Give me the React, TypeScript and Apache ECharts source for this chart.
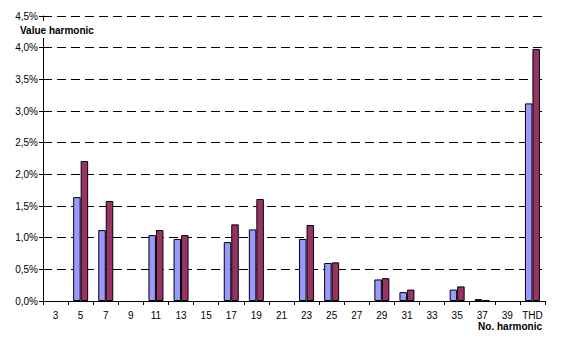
import React, { useEffect, useRef } from "react";
import * as echarts from "echarts";

const categories = ["3","5","7","9","11","13","15","17","19","21","23","25","27","29","31","33","35","37","39","THD"];
const seriesA = [null, 1.64, 1.12, null, 1.04, 0.98, null, 0.93, 1.13, null, 0.98, 0.60, null, 0.34, 0.14, null, 0.18, 0.03, null, 3.12];
const seriesB = [null, 2.21, 1.58, null, 1.12, 1.04, null, 1.21, 1.61, null, 1.20, 0.61, null, 0.36, 0.18, null, 0.23, 0.01, null, 3.98];
const yTitle = "Value harmonic";
const xTitle = "No. harmonic";

const FONT = "'Liberation Sans', Arial, sans-serif";

export default function App() {
  const ref = useRef<HTMLDivElement>(null);
  useEffect(() => {
    document.body.style.margin = "0";
    const chart = echarts.init(ref.current!, null, { renderer: "svg" });
    chart.setOption({
      animation: false,
      backgroundColor: "#fff",
      textStyle: { fontFamily: FONT },
      grid: { left: 43, right: 18, top: 16, bottom: 40, containLabel: false },
      xAxis: {
        type: "category",
        data: categories,
        boundaryGap: true,
        axisLine: { show: true, lineStyle: { color: "#000", width: 1 } },
        axisTick: { show: true, length: 4, lineStyle: { color: "#000" }, alignWithLabel: false },
        axisLabel: { color: "#000", fontSize: 10, fontFamily: FONT, margin: 9, interval: 0 },
        splitLine: { show: false },
      },
      yAxis: {
        type: "value",
        min: 0,
        max: 4.5,
        interval: 0.5,
        axisLine: { show: true, lineStyle: { color: "#000", width: 1 } },
        axisTick: { show: true, length: 4, lineStyle: { color: "#000" } },
        axisLabel: {
          color: "#000",
          fontSize: 10,
          fontFamily: FONT,
          margin: 5,
          formatter: (v: number) => v.toFixed(1).replace(".", ",") + "%",
        },
        splitLine: { show: true, lineStyle: { color: "#000", type: [9, 5], width: 1 } },
      },
      series: [
        {
          type: "bar",
          data: seriesA,
          barWidth: 7.5,
          barGap: "0%",
          itemStyle: { color: "#9999FF", borderColor: "#000", borderWidth: 1 },
        },
        {
          type: "bar",
          data: seriesB,
          barWidth: 7.5,
          barGap: "0%",
          itemStyle: { color: "#993366", borderColor: "#000", borderWidth: 1 },
        },
      ],
      graphic: [
        {
          type: "rect",
          shape: { x: 18, y: 21, width: 78, height: 17 },
          style: { fill: "#fff" },
          z: 100,
        },
        {
          type: "text",
          x: 20,
          y: 30,
          z: 101,
          style: {
            text: yTitle,
            fill: "#000",
            font: "bold 10px " + FONT,
            textAlign: "left",
            textVerticalAlign: "middle",
          },
        },
        {
          type: "text",
          x: 542,
          y: 326,
          z: 101,
          style: {
            text: xTitle,
            fill: "#000",
            font: "bold 10px " + FONT,
            textAlign: "right",
            textVerticalAlign: "middle",
          },
        },
      ],
    });
    return () => chart.dispose();
  }, []);
  return <div ref={ref} style={{ position: "fixed", left: 0, top: 0, width: 563, height: 341 }} />;
}
